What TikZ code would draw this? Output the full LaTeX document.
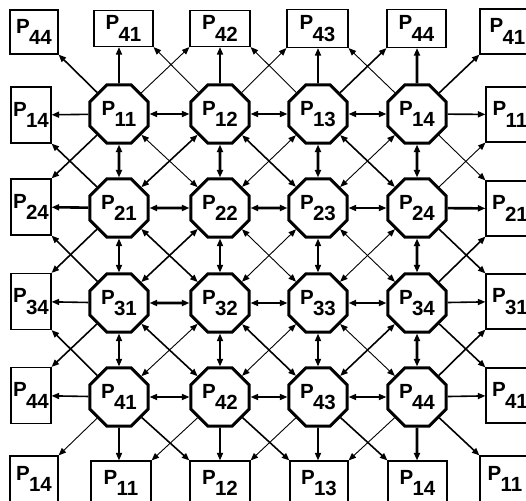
\documentclass[tikz,border=0pt]{standalone}
\usepackage{fontspec}
\setmainfont{Liberation Sans}
\usetikzlibrary{shapes.geometric,arrows.meta}

% processor label: P with lowered index
\newcommand{\pl}[1]{P\kern-0.8pt\raisebox{-11.5pt}{#1}}

\tikzset{
    ah/.tip={Triangle[length=7.5pt,width=6pt]},
    proc/.style={
        draw,
        regular polygon,
        regular polygon sides=8,
        minimum size=63pt,
        inner sep=0pt,
        line width=3pt,
        font=\fontsize{20.5}{20.5}\selectfont\bfseries
    },
    ghost/.style={
        draw,
        line width=1.2pt,
        inner sep=0pt,
        font=\fontsize{20.5}{20.5}\selectfont\bfseries
    },
    lthin/.style={line width=0.9pt},
    lmid/.style={line width=1.6pt},
    lthick/.style={line width=2.6pt}
}

\begin{document}
\begin{tikzpicture}[x=1pt,y=-1pt]
\useasboundingbox (0,0) rectangle (526,500);
\clip (0,0) rectangle (526,500);

% mesh of processors
\node[proc] (o11) at (119,114) {\pl{11}};
\node[proc] (o12) at (220,114) {\pl{12}};
\node[proc] (o13) at (318,114) {\pl{13}};
\node[proc] (o14) at (417,114) {\pl{14}};
\node[proc] (o21) at (119,208) {\pl{21}};
\node[proc] (o22) at (220,208) {\pl{22}};
\node[proc] (o23) at (318,208) {\pl{23}};
\node[proc] (o24) at (417,208) {\pl{24}};
\node[proc] (o31) at (119,303) {\pl{31}};
\node[proc] (o32) at (220,303) {\pl{32}};
\node[proc] (o33) at (318,303) {\pl{33}};
\node[proc] (o34) at (417,303) {\pl{34}};
\node[proc] (o41) at (119,397) {\pl{41}};
\node[proc] (o42) at (220,397) {\pl{42}};
\node[proc] (o43) at (318,397) {\pl{43}};
\node[proc] (o44) at (417,397) {\pl{44}};

% wrap-around copies: top row
\node[ghost, minimum width=48pt, minimum height=44pt] (tl) at (34,32) {\pl{44}};
\node[ghost, minimum width=59pt, minimum height=36pt] (t1) at (123.5,28.5) {\pl{41}};
\node[ghost, minimum width=60pt, minimum height=36pt] (t2) at (220,28.5) {\pl{42}};
\node[ghost, minimum width=61pt, minimum height=38pt] (t3) at (317.5,28.5) {\pl{43}};
\node[ghost, minimum width=59pt, minimum height=38pt] (t4) at (416.5,28.5) {\pl{44}};
\node[ghost, minimum width=55pt, minimum height=45pt] (tr) at (507.5,31.5) {\pl{41}};

% left and right columns
\node[ghost, minimum width=40pt, minimum height=56pt] (l1) at (31,115) {\pl{14}};
\node[ghost, minimum width=40pt, minimum height=56pt] (l2) at (31,207) {\pl{24}};
\node[ghost, minimum width=40pt, minimum height=56pt] (l3) at (31,301.5) {\pl{34}};
\node[ghost, minimum width=40pt, minimum height=56pt] (l4) at (31,395.5) {\pl{44}};
\node[ghost, minimum width=48pt, minimum height=55pt] (r1) at (510,114.5) {\pl{11}};
\node[ghost, minimum width=48pt, minimum height=55pt] (r2) at (510,208.5) {\pl{21}};
\node[ghost, minimum width=48pt, minimum height=55pt] (r3) at (510,301.5) {\pl{31}};
\node[ghost, minimum width=48pt, minimum height=55pt] (r4) at (510,395.5) {\pl{41}};

% bottom row
\node[ghost, minimum width=48pt, minimum height=46pt] (bl) at (34,479) {\pl{14}};
\node[ghost, minimum width=60pt, minimum height=44pt] (b1) at (121,483) {\pl{11}};
\node[ghost, minimum width=60pt, minimum height=44pt] (b2) at (220,483) {\pl{12}};
\node[ghost, minimum width=58pt, minimum height=44pt] (b3) at (319,483) {\pl{13}};
\node[ghost, minimum width=59pt, minimum height=44pt] (b4) at (417.5,483) {\pl{14}};
\node[ghost, minimum width=50pt, minimum height=46pt] (br) at (505,479) {\pl{11}};

% links inside the mesh
\foreach \a/\b/\w in {
    o11/o12/lmid, o12/o13/lmid, o13/o14/lmid,
    o21/o22/lthick, o22/o23/lthick, o23/o24/lmid,
    o31/o32/lthick, o32/o33/lmid, o33/o34/lthick,
    o41/o42/lmid, o42/o43/lmid, o43/o44/lmid,
    o11/o21/lthick, o21/o31/lmid, o31/o41/lmid,
    o12/o22/lthick, o22/o32/lmid, o32/o42/lmid,
    o13/o23/lthick, o23/o33/lmid, o33/o43/lmid,
    o14/o24/lthick, o24/o34/lthick, o34/o44/lthick,
    o11/o22/lthin, o12/o21/lmid, o12/o23/lmid, o13/o22/lthin,
    o13/o24/lmid, o14/o23/lthin, o21/o32/lmid, o22/o31/lmid,
    o22/o33/lthin, o23/o32/lthin, o23/o34/lthin, o24/o33/lthin,
    o31/o42/lmid, o32/o41/lthin, o32/o43/lmid, o33/o42/lthin,
    o33/o44/lthin, o34/o43/lmid}
    \draw[\w, ah-ah] (\a) -- (\b);

% links to the wrap-around copies
\foreach \a/\b/\w in {
    o11/tl.south east/lmid, o11/t2.south west/lthin,
    o12/t1.south east/lthin, o12/t3.south west/lthin,
    o13/t2.south east/lthin, o13/t4.south west/lmid,
    o14/t3.south east/lthin, o14/tr.south west/lmid,
    o11/l1/lmid, o11/l2.north east/lmid,
    o21/l1.south east/lmid, o21/l2/lthick, o21/l3.north east/lmid,
    o31/l2.south east/lmid, o31/l3/lmid, o31/l4.north east/lmid,
    o41/l3.south east/lmid, o41/l4/lmid, o41/bl.north east/lthin,
    o14/r1/lmid, o14/r2.north west/lthin,
    o24/r1.south west/lthin, o24/r2/lthick, o24/r3.north west/lmid,
    o34/r2.south west/lmid, o34/r3/lmid, o34/r4.north west/lmid,
    o44/r3.south west/lmid, o44/r4/lmid, o44/br.north west/lmid,
    o41/b2.north west/lmid,
    o42/b1.north east/lthin, o42/b3.north west/lmid,
    o43/b2.north east/lthin, o43/b4.north west/lmid,
    o44/b3.north east/lthin}
    \draw[\w, -ah] (\a) -- (\b);

% straight up and down to the copies
\foreach \a/\b/\w in {o11/t1/lmid, o12/t2/lmid, o13/t3/lmid, o14/t4/lthick}
    \draw[\w, -ah] (\a) -- (\a |- \b.south);
\foreach \a/\b/\w in {o41/b1/lmid, o42/b2/lmid, o43/b3/lmid, o44/b4/lthick}
    \draw[\w, -ah] (\a) -- (\a |- \b.north);
\end{tikzpicture}
\end{document}
